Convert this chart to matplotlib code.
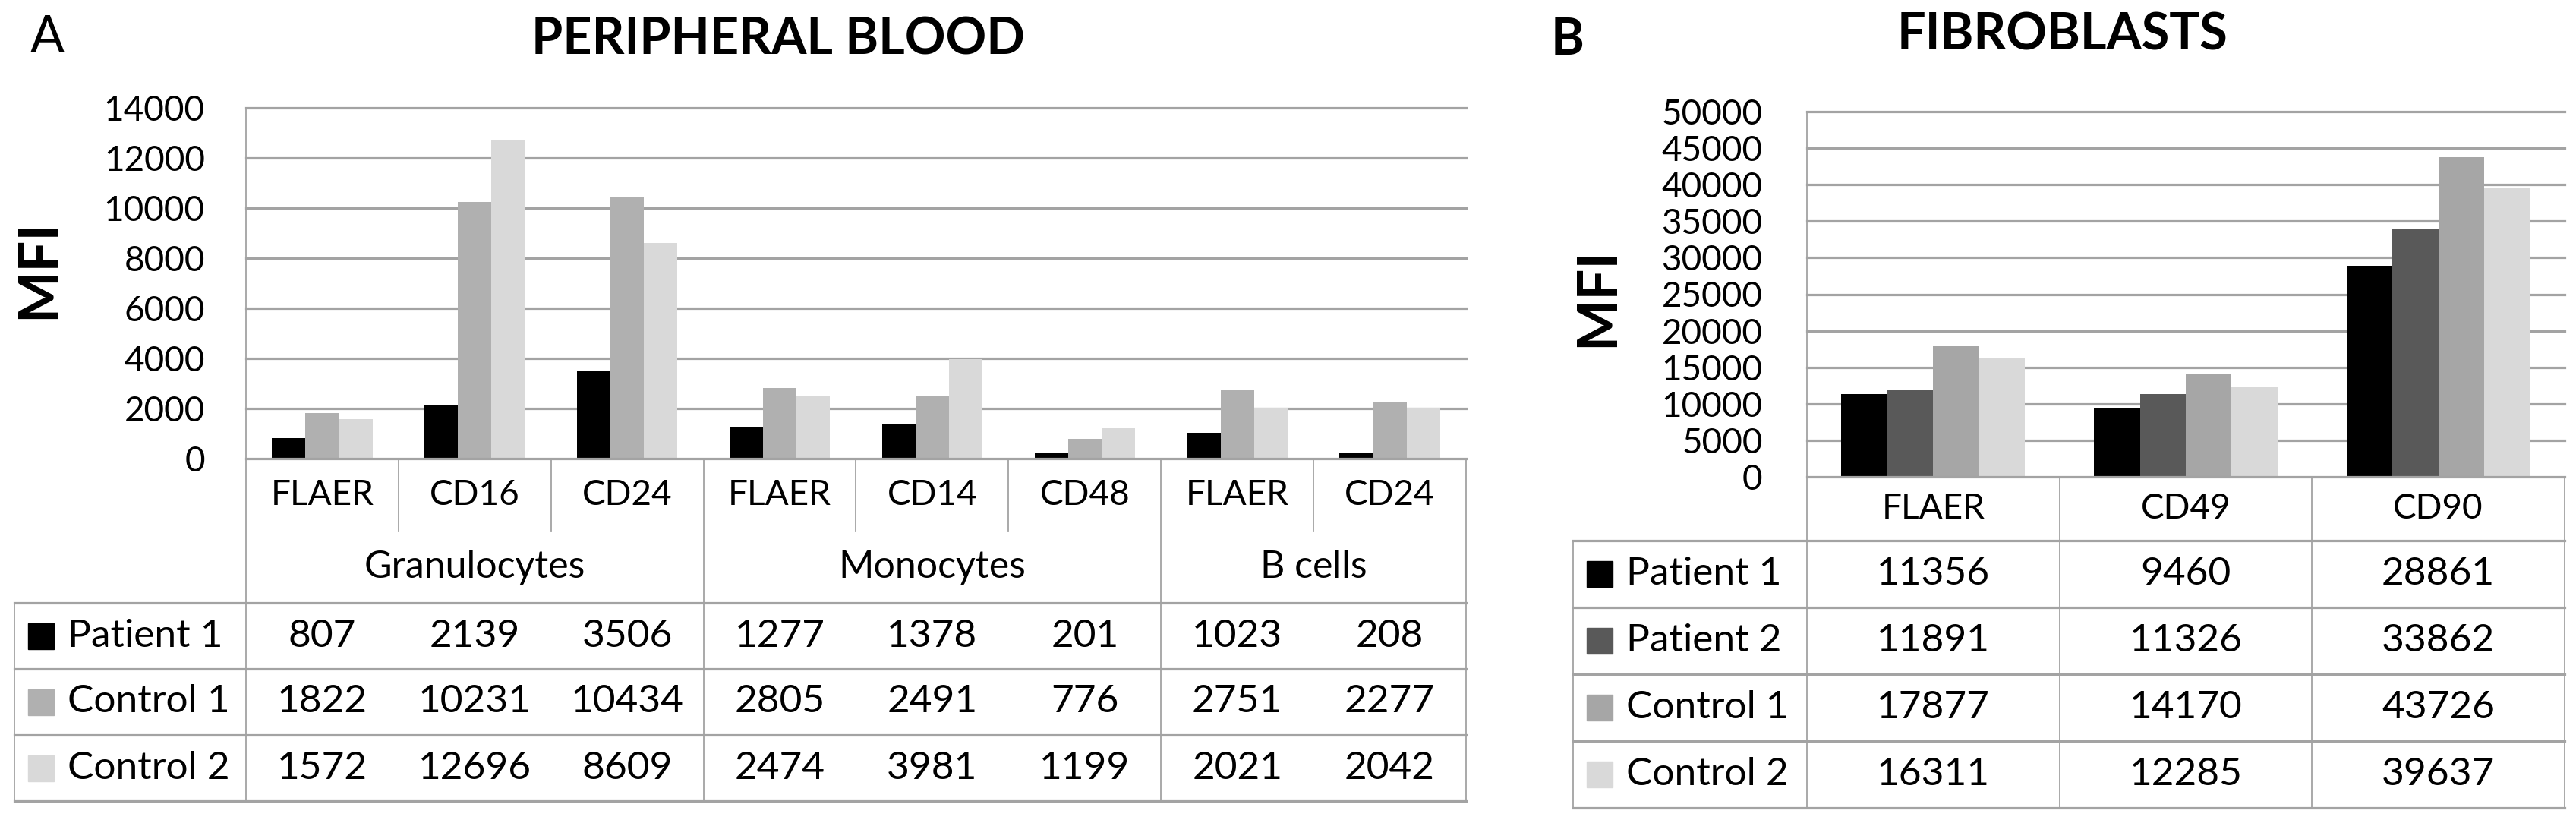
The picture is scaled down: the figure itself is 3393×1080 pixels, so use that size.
import matplotlib.pyplot as plt
import numpy as np

plt.rcParams['font.family'] = ['Lato', 'DejaVu Sans']

# --- panel A: peripheral blood ---
blood_markers = ['FLAER', 'CD16', 'CD24', 'FLAER', 'CD14', 'CD48', 'FLAER', 'CD24']
blood_groups = ['Granulocytes', 'Monocytes', 'B cells']
blood_group_sizes = [3, 3, 2]
blood_series = ['Patient 1', 'Control 1', 'Control 2']
blood_patient1 = [807, 2139, 3506, 1277, 1378, 201, 1023, 208]
blood_control1 = [1822, 10231, 10434, 2805, 2491, 776, 2751, 2277]
blood_control2 = [1572, 12696, 8609, 2474, 3981, 1199, 2021, 2042]
blood_colors = ['#000000', '#b0b0b0', '#d9d9d9']
blood_yticks = list(range(0, 14001, 2000))

# --- panel B: fibroblasts ---
fibro_markers = ['FLAER', 'CD49', 'CD90']
fibro_series = ['Patient 1', 'Patient 2', 'Control 1', 'Control 2']
fibro_patient1 = [11356, 9460, 28861]
fibro_patient2 = [11891, 11326, 33862]
fibro_control1 = [17877, 14170, 43726]
fibro_control2 = [16311, 12285, 39637]
fibro_colors = ['#000000', '#595959', '#a6a6a6', '#d9d9d9']
fibro_yticks = list(range(0, 50001, 5000))

W, H = 3393, 1080
LINE = '#a3a3a3'

fig = plt.figure(figsize=(W / 100, H / 100), dpi=100)


def box(x0, y0, x1, y1):
    # pixel box (top-left origin) -> figure fraction rect
    return [x0 / W, 1 - y1 / H, (x1 - x0) / W, (y1 - y0) / H]


def draw_panel(series_vals, names, colors, markers, yticks, plot_box, table_left,
               bar_frac, tick_pad, row_h, header_h, group_h=0, groups=None, group_sizes=None):
    x0, y0, x1, y1 = plot_box
    n = len(markers)
    k = len(series_vals)
    colw = (x1 - x0) / n

    ax = fig.add_axes(box(x0, y0, x1, y1))
    x = np.arange(n)
    bw = bar_frac / k
    for i, (vals, c) in enumerate(zip(series_vals, colors)):
        ax.bar(x + (i - (k - 1) / 2) * bw, vals, width=bw, color=c, zorder=2)
    ax.set_xlim(-0.5, n - 0.5)
    ax.set_ylim(0, yticks[-1])
    for t in yticks[1:]:
        ax.axhline(t, color=LINE, lw=2.3, zorder=0, clip_on=False)
    ax.set_yticks(yticks)
    ax.set_yticklabels([str(t) for t in yticks], fontsize=33)
    ax.set_xticks([])
    ax.tick_params(axis='y', length=0, pad=tick_pad)
    for s in ['top', 'right']:
        ax.spines[s].set_visible(False)
    ax.spines['left'].set_color(LINE)
    ax.spines['left'].set_linewidth(1.3)
    ax.spines['bottom'].set_color(LINE)
    ax.spines['bottom'].set_linewidth(2.3)

    # table below the bars, same x units as the bars
    total_h = header_h + group_h + row_h * k
    tax = fig.add_axes(box(table_left, y1, x1, y1 + total_h))
    left_u = -0.5 - (x0 - table_left) / colw
    tax.set_xlim(left_u, n - 0.5)
    tax.set_ylim(total_h, 0)
    tax.axis('off')

    body_top = header_h + group_h
    # vertical lines
    bounds = np.cumsum(group_sizes) if group_sizes else np.arange(1, n + 1)
    for b in range(1, n):
        bottom = total_h if b in bounds else header_h
        tax.plot([b - 0.5, b - 0.5], [0, bottom], color=LINE, lw=1.3, clip_on=False)
    tax.plot([-0.5, -0.5], [0, total_h], color=LINE, lw=1.3, clip_on=False)
    tax.plot([n - 0.5, n - 0.5], [0, total_h], color=LINE, lw=1.3, clip_on=False)
    tax.plot([left_u, left_u], [body_top, total_h], color=LINE, lw=1.3, clip_on=False)
    # horizontal lines
    for r in range(k + 1):
        yy = body_top + r * row_h
        tax.plot([left_u, n - 0.5], [yy, yy], color=LINE, lw=2.3, clip_on=False)

    # header labels
    for i, m in enumerate(markers):
        tax.text(i, header_h / 2, m, ha='center', va='center', fontsize=33)
    if groups:
        start = 0
        for g, size in zip(groups, group_sizes):
            tax.text(start + (size - 1) / 2, header_h + group_h / 2, g,
                     ha='center', va='center', fontsize=36)
            start += size

    # body rows
    for r, (vals, c, name) in enumerate(zip(series_vals, colors, names)):
        yc = body_top + (r + 0.5) * row_h
        tax.plot([left_u + 35 / colw], [yc], marker='s', ms=24, color=c,
                 linestyle='none', clip_on=False)
        tax.text(left_u + 70 / colw, yc, name, ha='left', va='center', fontsize=37)
        for i, v in enumerate(vals):
            tax.text(i, yc, str(v), ha='center', va='center', fontsize=37)
    return ax


draw_panel([blood_patient1, blood_control1, blood_control2], blood_series, blood_colors,
           blood_markers, blood_yticks, (324, 142, 1931, 604), 19,
           bar_frac=0.66, tick_pad=39, row_h=87, header_h=96, group_h=94,
           groups=blood_groups, group_sizes=blood_group_sizes)

draw_panel([fibro_patient1, fibro_patient2, fibro_control1, fibro_control2], fibro_series,
           fibro_colors, fibro_markers, fibro_yticks, (2380, 147, 3378, 628), 2072,
           bar_frac=0.727, tick_pad=42, row_h=88, header_h=84)

fig.text(62 / W, 1 - 50 / H, 'A', fontsize=48, ha='center', va='center')
fig.text(1025 / W, 1 - 52 / H, 'PERIPHERAL BLOOD', fontsize=48, fontweight='bold',
         ha='center', va='center')
fig.text(52 / W, 1 - 355 / H, 'MFI', fontsize=52, fontweight='bold', rotation=90,
         ha='center', va='center')

fig.text(2065 / W, 1 - 53 / H, 'B', fontsize=48, fontweight='bold', ha='center', va='center')
fig.text(2716 / W, 1 - 47 / H, 'FIBROBLASTS', fontsize=48, fontweight='bold',
         ha='center', va='center')
fig.text(2105 / W, 1 - 392 / H, 'MFI', fontsize=52, fontweight='bold', rotation=90,
         ha='center', va='center')

fig.savefig('out.png', dpi=100, facecolor='white')
